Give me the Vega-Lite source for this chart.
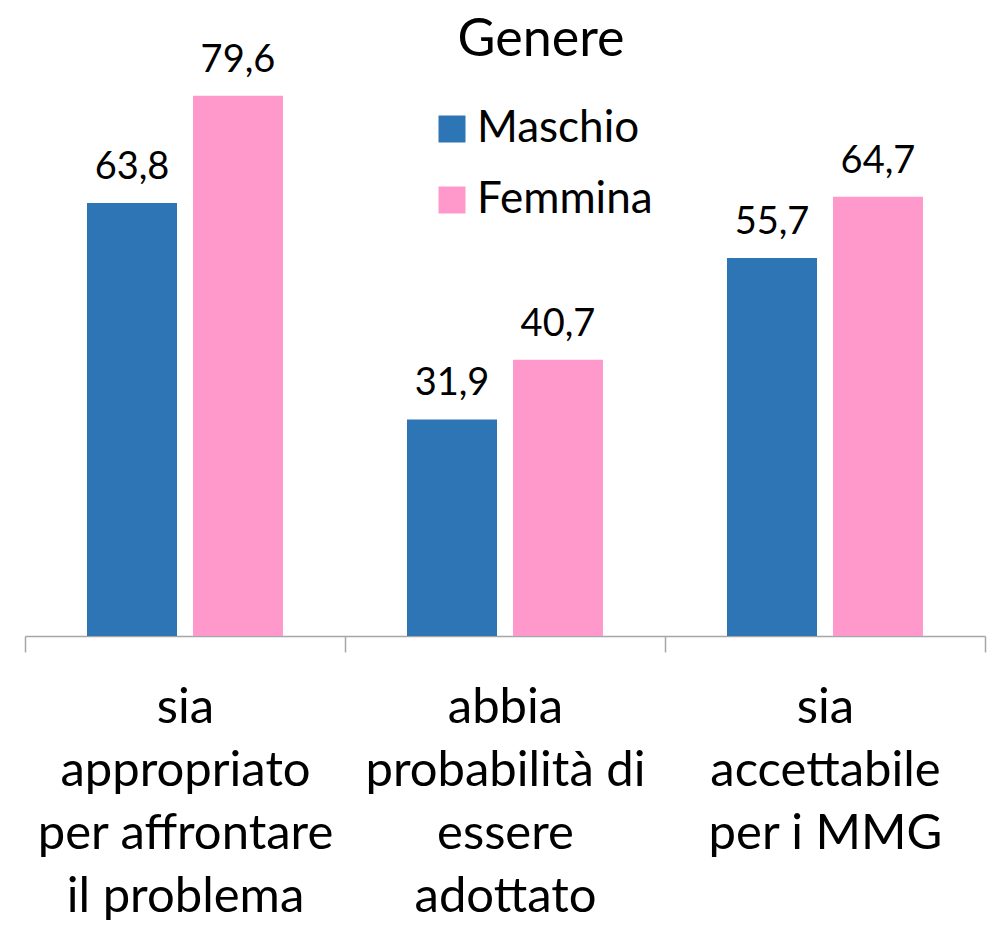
{
  "$schema": "https://vega.github.io/schema/vega-lite/v6.json",
  "autosize": {"type": "none"},
  "width": 960,
  "height": 543,
  "padding": {"left": 25, "top": 93, "right": 14, "bottom": 294},
  "background": "white",
  "config": {
    "view": {"stroke": null},
    "font": "Lato",
    "text": {"font": "Lato"}
  },
  "data": {
    "values": [
      {"categoria": "sia|appropriato|per affrontare|il problema", "genere": "Maschio", "valore": 63.8},
      {"categoria": "sia|appropriato|per affrontare|il problema", "genere": "Femmina", "valore": 79.6},
      {"categoria": "abbia|probabilità di|essere|adottato", "genere": "Maschio", "valore": 31.9},
      {"categoria": "abbia|probabilità di|essere|adottato", "genere": "Femmina", "valore": 40.7},
      {"categoria": "sia|accettabile|per i MMG", "genere": "Maschio", "valore": 55.7},
      {"categoria": "sia|accettabile|per i MMG", "genere": "Femmina", "valore": 64.7}
    ]
  },
  "transform": [
    {"calculate": "replace(format(datum.valore, '.1f'), '.', ',')", "as": "etichetta"}
  ],
  "encoding": {
    "x": {
      "field": "categoria",
      "type": "nominal",
      "sort": null,
      "scale": {"paddingInner": 0, "paddingOuter": 0},
      "axis": {
        "title": null,
        "labelAngle": 0,
        "labelExpr": "split(datum.label, '|')",
        "labelFont": "Lato",
        "labelFontSize": 49,
        "labelColor": "black",
        "labelLineHeight": 63,
        "labelBaseline": "alphabetic",
        "labelPadding": 70,
        "labelLimit": 0,
        "tickBand": "extent",
        "tickSize": 16,
        "tickColor": "#a6a6a6",
        "domainColor": "#a6a6a6",
        "tickWidth": 1.5,
        "domainWidth": 1.5
      }
    },
    "xOffset": {
      "field": "genere",
      "type": "nominal",
      "sort": ["Maschio", "Femmina"],
      "scale": {"paddingInner": 0.151, "paddingOuter": 0.585}
    },
    "y": {
      "field": "valore",
      "type": "quantitative",
      "scale": {"domain": [0, 80]},
      "axis": null
    }
  },
  "layer": [
    {
      "mark": {"type": "bar"},
      "encoding": {
        "color": {
          "field": "genere",
          "type": "nominal",
          "sort": ["Maschio", "Femmina"],
          "scale": {"domain": ["Maschio", "Femmina"], "range": ["#2E75B6", "#FF99CC"]},
          "legend": {
            "title": "Genere",
            "orient": "none",
            "legendX": 405,
            "legendY": -78,
            "titleFont": "Lato",
            "titleFontSize": 52,
            "titleFontWeight": "normal",
            "titleColor": "black",
            "titleAnchor": "middle",
            "titlePadding": 40,
            "titleLimit": 0,
            "labelFont": "Lato",
            "labelFontSize": 44,
            "labelColor": "black",
            "labelOffset": 3,
            "labelLimit": 0,
            "symbolType": "square",
            "symbolSize": 729,
            "symbolStrokeWidth": 0,
            "rowPadding": 27
          }
        }
      }
    },
    {
      "mark": {"type": "text", "baseline": "alphabetic", "dy": -24, "fontSize": 38, "font": "Lato", "color": "black"},
      "encoding": {
        "text": {"field": "etichetta", "type": "nominal"}
      }
    }
  ]
}
